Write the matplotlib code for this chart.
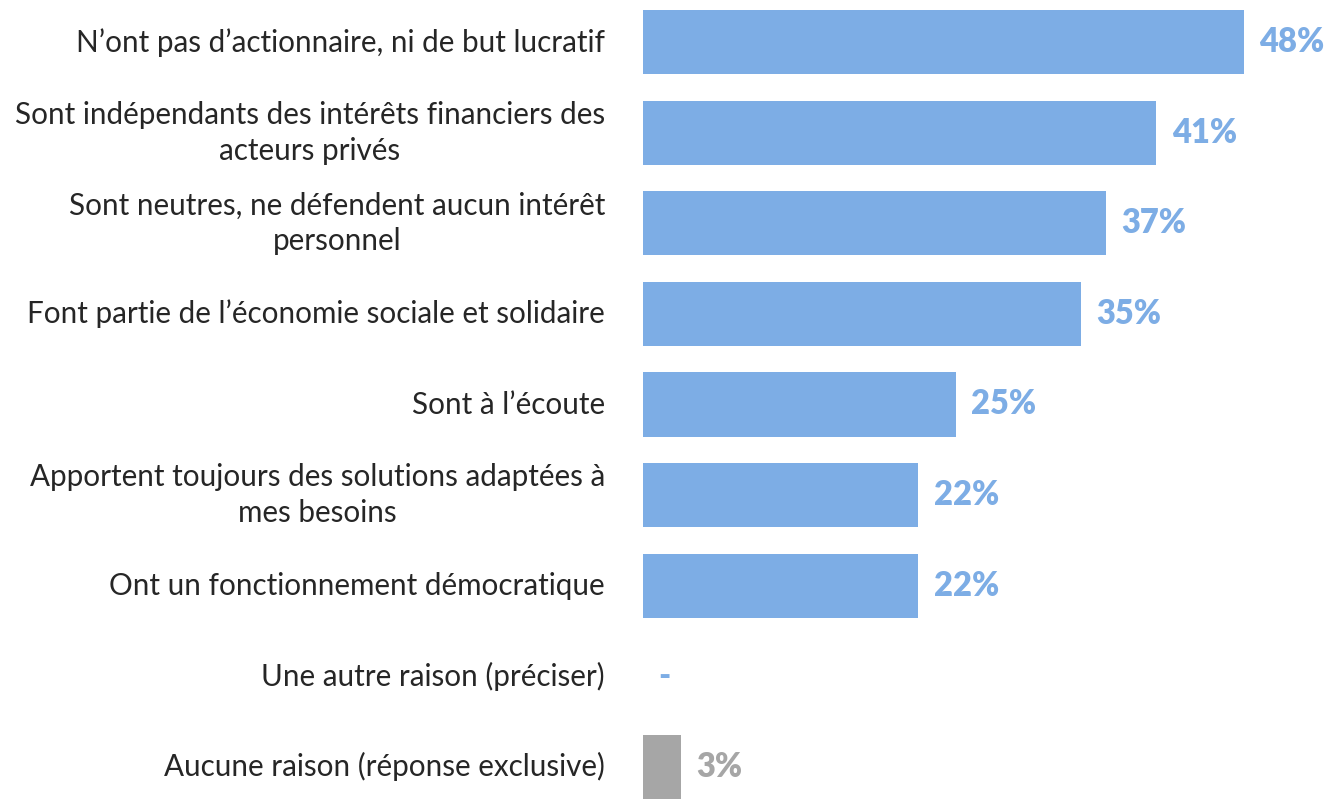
import matplotlib
matplotlib.use("Agg")
import matplotlib.pyplot as plt

categories = [
    "N’ont pas d’actionnaire, ni de but lucratif",
    "Sont indépendants des intérêts financiers des\nacteurs privés",
    "Sont neutres, ne défendent aucun intérêt\npersonnel",
    "Font partie de l’économie sociale et solidaire",
    "Sont à l’écoute",
    "Apportent toujours des solutions adaptées à\nmes besoins",
    "Ont un fonctionnement démocratique",
    "Une autre raison (préciser)",
    "Aucune raison (réponse exclusive)",
]
values = [48, 41, 37, 35, 25, 22, 22, 0, 3]
value_labels = ["48%", "41%", "37%", "35%", "25%", "22%", "22%", "-", "3%"]

BLUE = "#7DADE5"
GRAY = "#A6A6A6"
colors = [BLUE] * 8 + [GRAY]

fig = plt.figure(figsize=(13.29, 7.99), dpi=100)
left = 643 / 1329
ax = fig.add_axes([left, 0.0, 1 - left, 1 - 10 / 799])

ypos = list(range(len(categories)))
ax.barh(ypos, values, height=0.71, color=colors)
ax.set_ylim(8.355, -0.355)
ax.set_xlim(0, (1329 - 643) / 12.52)

for y, v, lab, c in zip(ypos, values, value_labels, colors):
    ax.annotate(lab, (v, y), xytext=(11, 0), textcoords="offset points",
                ha="left", va="center", fontsize=23.5, fontweight="heavy",
                color=c, family="Lato")

for y, lab in zip(ypos, categories):
    ax.annotate(lab, (0, y), xytext=(-27.4, 0), textcoords="offset points",
                ha="right", va="center", multialignment="center",
                fontsize=21.3, color="#262626", family="Lato", linespacing=1.35)

ax.axis("off")
fig.savefig("out.png", dpi=100)
